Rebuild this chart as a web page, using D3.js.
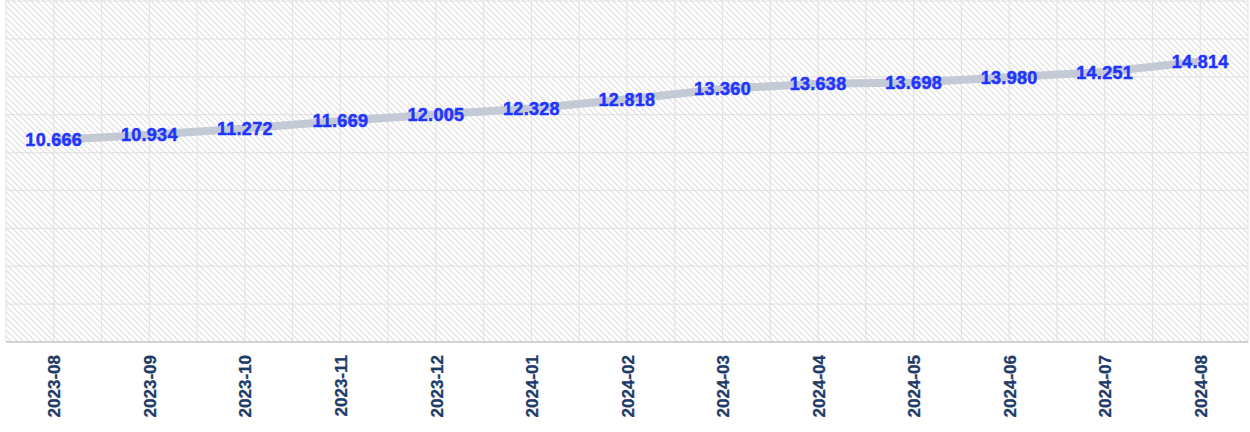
<!DOCTYPE html>
<html>
<head>
<meta charset="utf-8">
<script src="https://cdn.jsdelivr.net/npm/d3@7"></script>
<style>
  html, body { margin: 0; padding: 0; background: #fff; }
  svg { display: block; font-family: "Liberation Sans", Arial, sans-serif; }
</style>
</head>
<body>
<svg id="chart" width="1250" height="432"></svg>
<script>
// data
var months = ["2023-08", "2023-09", "2023-10", "2023-11", "2023-12", "2024-01", "2024-02",
              "2024-03", "2024-04", "2024-05", "2024-06", "2024-07", "2024-08"];
var values = [10.666, 10.934, 11.272, 11.669, 12.005, 12.328, 12.818,
              13.360, 13.638, 13.698, 13.980, 14.251, 14.814];
var yTicks = [0, 2, 4, 6, 8, 10, 12, 14, 16, 18];

var plotL = 6, plotR = 1248, plotT = 1, plotB = 342;

var svg = d3.select("#chart");

// diagonal hatch for the plot background
var defs = svg.append("defs");
var pat = defs.append("pattern")
  .attr("id", "hatch")
  .attr("patternUnits", "userSpaceOnUse")
  .attr("width", 6).attr("height", 6);
pat.append("rect").attr("width", 6).attr("height", 6).attr("fill", "#fff");
pat.append("path")
  .attr("d", "M-1,-1 L7,7 M-4,2 L2,8 M4,-4 L10,2")
  .attr("stroke", "#dedede")
  .attr("stroke-width", 1.2);

var x = d3.scalePoint().domain(months).range([plotL, plotR]).padding(0.5);
var band = d3.scaleBand().domain(months).range([plotL, plotR]);
var y = d3.scaleLinear().domain([0, 18]).range([plotB, plotT]);

svg.append("rect")
  .attr("x", plotL).attr("y", 0)
  .attr("width", plotR - plotL).attr("height", plotB)
  .attr("fill", "url(#hatch)");

// grid
var grid = svg.append("g").attr("stroke", "#e4e4e4").attr("stroke-width", 1.2);
var vx = months.map(function(m){ return band(m); }).concat([plotR])
  .concat(months.map(function(m){ return x(m); }));
grid.selectAll("line.v")
  .data(vx)
  .enter().append("line")
  .attr("class", "v")
  .attr("x1", function(d){ return d; }).attr("x2", function(d){ return d; })
  .attr("y1", 0).attr("y2", plotB);
grid.selectAll("line.h")
  .data(yTicks.slice(1))
  .enter().append("line")
  .attr("class", "h")
  .attr("x1", plotL).attr("x2", plotR)
  .attr("y1", function(d){ return y(d); }).attr("y2", function(d){ return y(d); });

// x axis
var xAxis = svg.append("g")
  .attr("transform", "translate(0," + plotB + ")")
  .call(d3.axisBottom(x).tickSize(0).tickPadding(0));
xAxis.select(".domain").attr("stroke", "#d2d2d2").attr("stroke-width", 2)
  .attr("d", "M" + plotL + ",0H" + plotR);
xAxis.selectAll("text")
  .attr("transform", "rotate(-90)")
  .attr("x", -13).attr("y", 0).attr("dy", "0.36em")
  .style("text-anchor", "end")
  .style("font-size", "17px")
  .style("font-weight", "bold")
  .style("font-family", "'Liberation Sans', Arial, sans-serif")
  .attr("fill", "#1d3a68")
  .attr("stroke", "#1d3a68")
  .attr("stroke-width", 0.3);

// line
var line = d3.line()
  .x(function(d, i){ return x(months[i]); })
  .y(function(d){ return y(d); });
svg.append("path")
  .datum(values)
  .attr("d", line)
  .attr("fill", "none")
  .attr("stroke", "#c3cad5")
  .attr("stroke-width", 8);

// value labels
svg.append("g").selectAll("text")
  .data(values)
  .enter().append("text")
  .attr("x", function(d, i){ return x(months[i]); })
  .attr("y", function(d){ return y(d); })
  .attr("dy", "0.36em")
  .attr("text-anchor", "middle")
  .style("font-size", "18px")
  .style("font-weight", "bold")
  .style("letter-spacing", "0.3px")
  .attr("fill", "#1f35ff")
  .attr("stroke", "#1f35ff")
  .attr("stroke-width", 0.5)
  .text(function(d){ return d.toFixed(3); });
</script>
</body>
</html>
